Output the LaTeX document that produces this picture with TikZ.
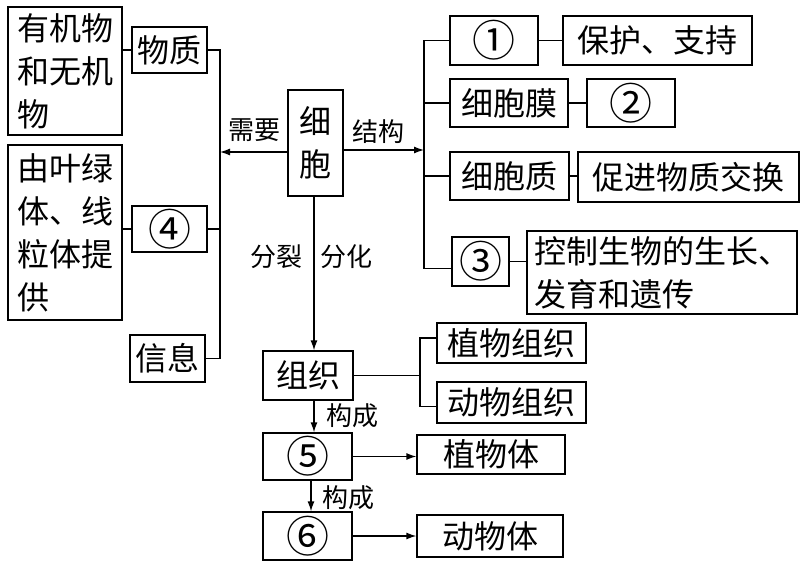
\documentclass[tikz,border=0pt]{standalone}
\usepackage{fontspec}
\setmainfont{Noto Sans CJK SC}
\usetikzlibrary{arrows.meta}
\newcommand\bigfont{\fontsize{32}{43}\selectfont}
\newcommand\labfont{\fontsize{26}{30}\selectfont}
\newcommand\cdig[1]{{\fontsize{43}{43}\selectfont #1}}
\tikzset{
 box/.style={draw, line width=1.3pt, inner sep=0pt, font=\bigfont, align=center},
 lbox/.style={box, align=left},
 lab/.style={font=\labfont, inner sep=0pt},
 conn/.style={line width=1.3pt},
 arr/.style={conn, -{Latex[length=10pt,width=7pt]}},
}
\newcommand\mybox[7][box]{\node[#1, minimum width={(#5-#3)*1pt}, minimum height={(#6-#4)*1pt}] (#2) at ({(#3+#5)/2},{(#4+#6)/2}) {#7};}
\begin{document}
\begin{tikzpicture}[x=1pt,y=-1pt]
\useasboundingbox (0,0) rectangle (803,564);
% left side
\mybox[lbox]{yj}{8}{7}{122}{135}{有机物\\和无机\\物}
\mybox{wz}{132}{27}{207}{73}{物质}
\mybox[lbox]{yl}{8}{145}{122}{320}{由叶绿\\体、线\\粒体提\\供}
\mybox{s4}{132}{206}{207}{252}{\cdig{④}}
\mybox{xx}{130}{335}{205}{382}{信息}
% centre
\mybox{xb}{288}{90}{343}{196}{细\\胞}
% right side
\mybox{c1}{450}{16}{538}{65}{\cdig{①}}
\mybox{bh}{563}{16}{752}{65}{保护、支持}
\mybox{xbm}{450}{79}{568}{127}{细胞膜}
\mybox{c2}{587}{79}{675}{127}{\cdig{②}}
\mybox{xbz}{450}{152}{569}{200}{细胞质}
\mybox{cj}{578}{152}{799}{202}{促进物质交换}
\mybox{c3}{452}{237}{509}{286}{\cdig{③}}
\mybox[lbox]{kz}{527}{231}{797}{314}{控制生物的生长、\\发育和遗传}
% bottom
\mybox{zz}{263}{351}{353}{400}{组织}
\mybox{zwzz}{437}{323}{586}{363}{植物组织}
\mybox{dwzz}{437}{382}{586}{423}{动物组织}
\mybox{c5}{263}{433}{352}{480}{\cdig{⑤}}
\mybox{zwt}{417}{435}{565}{474}{植物体}
\mybox{c6}{263}{512}{352}{560}{\cdig{⑥}}
\mybox{dwt}{417}{515}{563}{557}{动物体}
% bus coordinates
\coordinate (lb) at (220,0);
\coordinate (rb) at (424,0);
\coordinate (tb) at (420,0);
\coordinate (vx) at (314,0);
\coordinate (vy) at (311,0);
\coordinate (ya) at (0,152);
\coordinate (yb) at (0,150);
% left connectors
\draw[conn] (yj.east |- wz.west) -- (wz.west);
\draw[conn] (yl.east |- s4.west) -- (s4.west);
\draw[conn] (wz.east) -- (wz.east -| lb) -- (xx.east -| lb) -- (xx.east);
\draw[conn] (s4.east) -- (s4.east -| lb);
\draw[arr] (xb.west |- ya) -- (lb |- ya);
\node[lab] (nx) at (254,130) {需要};
% right connectors
\draw[arr] (xb.east |- yb) -- (rb |- yb);
\node[lab] (nj) at (378,132) {结构};
\draw[conn] (c1.west) -- (c1.west -| rb) -- ([yshift=-7pt]c3.west -| rb) -- ([yshift=-7pt]c3.west);
\draw[conn] (xbm.west) -- (xbm.west -| rb);
\draw[conn] (xbz.west) -- (xbz.west -| rb);
\draw[conn] (c1.east) -- (bh.west |- c1.east);
\draw[conn] (xbm.east) -- (c2.west |- xbm.east);
\draw[conn] (xbz.east) -- (cj.west |- xbz.east);
\draw[conn] (c3.east) -- (kz.west |- c3.east);
% down
\draw[arr] (xb.south -| vx) -- (zz.north -| vx);
\node[lab] (fl) at (276,257) {分裂};
\node[lab] (fh) at (346,257) {分化};
\draw[conn] (zz.east) -- (zz.east -| tb);
\draw[conn] ([yshift=5pt]zwzz.west) -- ([yshift=5pt]zwzz.west -| tb) -- ([yshift=-4pt]dwzz.west -| tb) -- ([yshift=-4pt]dwzz.west);
\draw[arr] (zz.south -| vx) -- (c5.north -| vx);
\node[lab] (gc1) at (352,416) {构成};
\draw[arr] (c5.south -| vy) -- (c6.north -| vy);
\node[lab] (gc2) at (348,498) {构成};
\draw[arr] (c5.east) -- (zwt.west |- c5.east);
\draw[arr] (c6.east) -- (dwt.west |- c6.east);
\end{tikzpicture}
\end{document}
